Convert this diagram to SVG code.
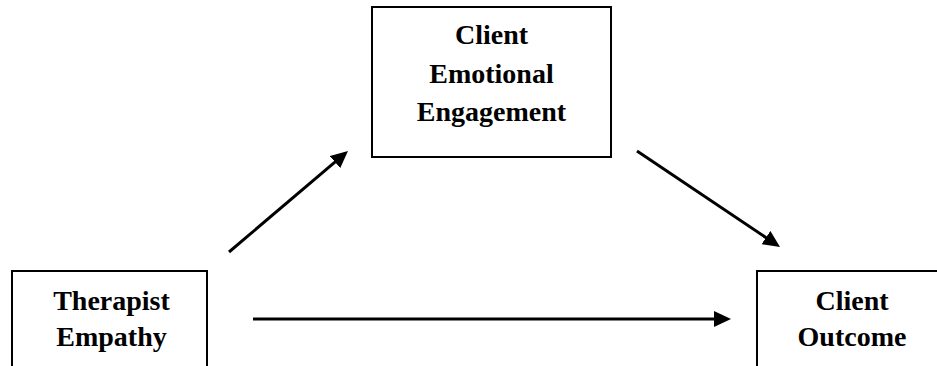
<svg xmlns="http://www.w3.org/2000/svg" width="937" height="366" viewBox="0 0 937 366">
  <defs>
    <style>
      .box { fill: #ffffff; stroke: #000000; stroke-width: 2; }
      .label { font-family: "Liberation Serif", "Times New Roman", serif; font-weight: bold; font-size: 28px; fill: #000000; text-anchor: middle; }
      .link { stroke: #000000; stroke-width: 3; fill: none; marker-end: url(#head); }
    </style>
    <marker id="head" markerUnits="userSpaceOnUse" markerWidth="17" markerHeight="16" refX="6" refY="8" orient="auto" viewBox="0 0 17 16">
      <path d="M0,0 L17,8 L0,16 Z" fill="#000000"/>
    </marker>
  </defs>
  <rect width="937" height="366" fill="#ffffff"/>

  <g id="engagement">
    <rect class="box" x="372" y="7" width="239" height="150"/>
    <text class="label" x="491.5" y="44">Client</text>
    <text class="label" x="491.5" y="82.5">Emotional</text>
    <text class="label" x="491.5" y="121">Engagement</text>
  </g>

  <g id="empathy">
    <rect class="box" x="12" y="271" width="195" height="120"/>
    <text class="label" x="111.5" y="310">Therapist</text>
    <text class="label" x="111.5" y="346">Empathy</text>
  </g>

  <g id="outcome">
    <rect class="box" x="757" y="271" width="200" height="120"/>
    <text class="label" x="852" y="310">Client</text>
    <text class="label" x="852" y="346">Outcome</text>
  </g>

  <g id="connectors">
    <line class="link" x1="229" y1="252" x2="339.6" y2="158.2"/>
    <line class="link" x1="637" y1="151" x2="770.9" y2="240.9"/>
    <line class="link" x1="253" y1="319" x2="720" y2="319"/>
  </g>
</svg>
